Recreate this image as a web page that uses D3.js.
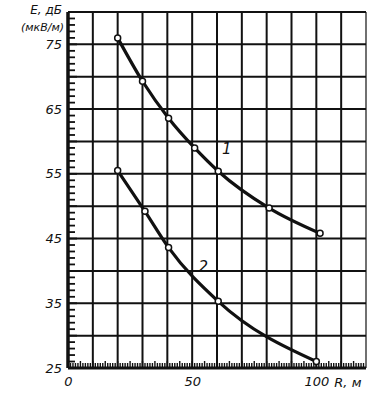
<!DOCTYPE html>
<html>
<head>
<meta charset="utf-8">
<script src="https://cdn.jsdelivr.net/npm/d3@7"></script>
<style>
  body { margin: 0; background: #fff; }
  svg text { font-family: "DejaVu Sans", sans-serif; font-style: italic; fill: #111; }
</style>
</head>
<body>
<svg id="chart" width="381" height="396"></svg>
<script>
// values
const xDomain = [0, 120];
const yDomain = [25, 80];
const xLabels = [0, 50, 100];
const yLabels = [25, 35, 45, 55, 65, 75];

const curve1R = [20, 30, 40.5, 51, 60.5, 81, 101.5];
const curve1E = [76, 69.3, 63.6, 59, 55.4, 49.7, 45.8];
const curve2R = [20, 31, 40.5, 60.5, 100];
const curve2E = [55.5, 49.2, 43.6, 35.3, 26];

const margin = {top: 12, left: 68, right: 15, bottom: 28};
const fullWidth = 381, fullHeight = 396;
const width = fullWidth - margin.left - margin.right;
const height = fullHeight - margin.top - margin.bottom;

const svg = d3.select("#chart");
const g = svg.append("g").attr("transform", `translate(${margin.left},${margin.top})`);

const x = d3.scaleLinear().domain(xDomain).range([0, width]);
const y = d3.scaleLinear().domain(yDomain).range([height, 0]);

// grid
g.append("g").selectAll("line")
  .data(d3.range(10, 121, 10))
  .enter().append("line")
    .attr("x1", d => x(d)).attr("x2", d => x(d))
    .attr("y1", 0).attr("y2", height)
    .attr("stroke", "#111").attr("stroke-width", d => d === 120 ? 1.2 : 2);

g.append("g").selectAll("line")
  .data(d3.range(30, 81, 5))
  .enter().append("line")
    .attr("x1", 0).attr("x2", width)
    .attr("y1", d => y(d)).attr("y2", d => y(d))
    .attr("stroke", "#111").attr("stroke-width", 2);

// minor ticks pointing inwards
g.append("g").selectAll("line")
  .data(d3.range(26, 80, 1))
  .enter().append("line")
    .attr("x1", 0).attr("x2", d => d % 5 === 0 ? 9 : 7)
    .attr("y1", d => y(d)).attr("y2", d => y(d))
    .attr("stroke", "#111").attr("stroke-width", 1.8);

g.append("g").selectAll("line")
  .data(d3.range(1, 120, 1))
  .enter().append("line")
    .attr("x1", d => x(d)).attr("x2", d => x(d))
    .attr("y1", height).attr("y2", d => height - (d % 5 === 0 ? 7 : 5))
    .attr("stroke", "#111").attr("stroke-width", 1.4);

// axis lines
g.append("line").attr("x1", 0).attr("x2", 0).attr("y1", 0).attr("y2", height)
  .attr("stroke", "#111").attr("stroke-width", 3.5);
g.append("line").attr("x1", 0).attr("x2", width).attr("y1", height).attr("y2", height)
  .attr("stroke", "#111").attr("stroke-width", 3);

// tick labels
const yAxis = d3.axisLeft(y).tickValues(yLabels).tickSize(0).tickPadding(6);
g.append("g").call(yAxis)
  .call(s => s.select(".domain").remove())
  .selectAll("text").style("font-size", "13px");

const xAxis = d3.axisBottom(x).tickValues(xLabels).tickSize(0).tickPadding(9);
g.append("g").attr("transform", `translate(0,${height})`).call(xAxis)
  .call(s => s.select(".domain").remove())
  .selectAll("text").style("font-size", "13px");

// axis titles
svg.append("text").attr("x", 62).attr("y", 14).attr("text-anchor", "end")
  .style("font-size", "12px").text("E, дБ");
svg.append("text").attr("x", 64).attr("y", 31).attr("text-anchor", "end")
  .style("font-size", "11px").text("(мкВ/м)");
svg.append("text").attr("x", x(100) + margin.left + 18).attr("y", 387)
  .style("font-size", "13px").text("R, м");

// curves
const line = d3.line()
  .x(d => x(d[0]))
  .y(d => y(d[1]))
  .curve(d3.curveMonotoneX);

const series = [d3.zip(curve1R, curve1E), d3.zip(curve2R, curve2E)];

series.forEach(pts => {
  g.append("path").datum(pts)
    .attr("fill", "none").attr("stroke", "#111")
    .attr("stroke-width", 3.2).attr("stroke-linecap", "round")
    .attr("d", line);
  g.append("g").selectAll("circle")
    .data(pts)
    .enter().append("circle")
      .attr("cx", d => x(d[0])).attr("cy", d => y(d[1]))
      .attr("r", 3).attr("fill", "#fff")
      .attr("stroke", "#111").attr("stroke-width", 1.5);
});

// curve numbers
g.append("text").attr("x", x(62)).attr("y", y(58)).style("font-size", "15px").text("1");
g.append("text").attr("x", x(52.5)).attr("y", y(39.8)).style("font-size", "15px").text("2");
</script>
</body>
</html>
